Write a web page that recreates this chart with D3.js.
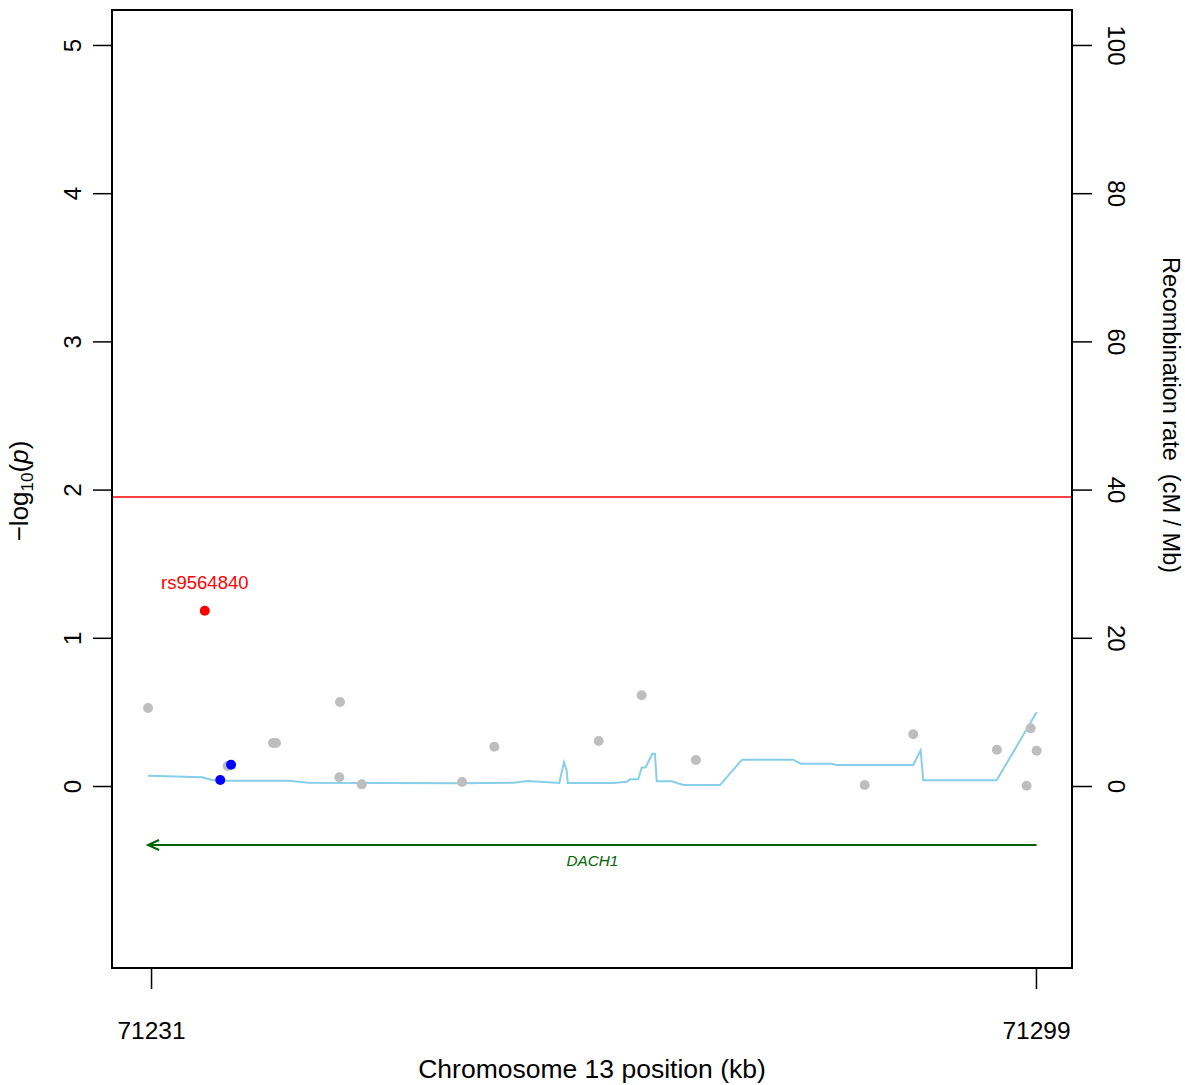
<!DOCTYPE html>
<html><head><meta charset="utf-8">
<script src="https://cdn.jsdelivr.net/npm/d3@7"></script>
<style>body{margin:0;background:#fff;} text{font-family:"Liberation Sans",Arial,sans-serif;}</style>
</head><body>
<svg id="c" width="1185" height="1085"></svg>
<script>
// SNP data (position kb, -log10 p)
const grayPos = [71230.77,71245.52,71240.37,71240.60,71236.89,71245.47,71247.19,71254.90,71257.38,71265.40,71268.70,71272.87,71289.57,71285.84,71296.00,71298.59,71299.05,71298.28];
const grayP   = [0.526,0.567,0.29,0.29,0.135,0.059,0.011,0.027,0.265,0.304,0.612,0.175,0.349,0.007,0.245,0.389,0.238,0.002];
const bluePos = [71236.32,71237.15];
const blueP   = [0.04,0.144];
const leadPos = [71235.13];
const leadP   = [1.183];
const leadName = ["rs9564840"];
// recombination rate (cM/Mb)
const recPos = [71230.77,71234.92,71235.69,71236.46,71241.58,71243.12,71254.97,71258.81,71259.97,71262.37,71262.73,71262.94,71263.02,71266.52,71267.55,71267.80,71268.44,71268.70,71269.01,71269.52,71269.72,71269.86,71271.01,71271.90,71274.72,71276.41,71280.35,71280.92,71283.30,71283.69,71289.57,71290.14,71290.34,71295.98,71299.05];
const recRate = [1.39,1.17,0.81,0.72,0.72,0.45,0.36,0.45,0.67,0.40,3.2,2.07,0.40,0.40,0.58,0.9,0.9,2.47,2.52,4.36,4.36,0.63,0.63,0.13,0.13,3.55,3.55,3.01,3.01,2.83,2.83,4.82,0.77,0.77,9.95];
// gene
const geneName = ["DACH1"];
const geneStart = [71230.77];
const geneEnd = [71299.05];
const threshold = 1.95;
const xTicks = [71231,71299];
const yTicks = [0,1,2,3,4,5];
const rTicks = [0,20,40,60,80,100];

const svg = d3.select("#c");
const L=112,R=1072,T=10,B=968;
const x = d3.scaleLinear().domain([71228.0,71301.77]).range([L,R]);
const y = d3.scaleLinear().domain([-1.228,5.236]).range([B,T]);
const yr = d3.scaleLinear().domain([-1.228*20,5.236*20]).range([B,T]);

// recombination line
svg.append("path").datum(recPos.map((p,i)=>[p,recRate[i]]))
  .attr("d", d3.line().x(d=>x(d[0])).y(d=>yr(d[1])))
  .attr("fill","none").attr("stroke","#87ceeb").attr("stroke-width",2);

// threshold
svg.append("line").attr("x1",L).attr("x2",R).attr("y1",y(threshold)).attr("y2",y(threshold))
  .attr("stroke","#ff0000").attr("stroke-width",1.5);

// gene arrow
const gy = y(-0.398);
geneName.forEach((g,i)=>{
  const xs=x(geneEnd[i]), xe=x(geneStart[i]);
  svg.append("line").attr("x1",xs).attr("x2",xe).attr("y1",gy).attr("y2",gy).attr("stroke","#006400").attr("stroke-width",2);
  svg.append("path").attr("d",`M${xe+11},${gy-5}L${xe},${gy}L${xe+11},${gy+5}`).attr("fill","none").attr("stroke","#006400").attr("stroke-width",2);
  svg.append("text").attr("x",(xs+xe)/2).attr("y",gy+21).attr("text-anchor","middle")
    .attr("font-size",15.3).attr("font-style","italic").attr("fill","#006400").text(g);
});

// points
svg.selectAll(".g").data(grayPos).enter().append("circle").attr("cx",d=>x(d)).attr("cy",(d,i)=>y(grayP[i])).attr("r",5).attr("fill","#bebebe");
svg.selectAll(".b").data(bluePos).enter().append("circle").attr("cx",d=>x(d)).attr("cy",(d,i)=>y(blueP[i])).attr("r",5).attr("fill","#0000ff");
svg.selectAll(".r").data(leadPos).enter().append("circle").attr("cx",d=>x(d)).attr("cy",(d,i)=>y(leadP[i])).attr("r",5).attr("fill","#ff0000");
leadPos.forEach((p,i)=>{
  svg.append("text").attr("x",x(p)).attr("y",y(leadP[i])-22).attr("text-anchor","middle")
    .attr("font-size",18.5).attr("fill","#ff0000").text(leadName[i]);
});

// box
svg.append("rect").attr("x",L).attr("y",T).attr("width",R-L).attr("height",B-T).attr("fill","none").attr("stroke","#000").attr("stroke-width",2);

// left axis
const la = svg.append("g").attr("transform",`translate(${L},0)`)
  .call(d3.axisLeft(y).tickValues(yTicks).tickSize(19).tickSizeOuter(0).tickFormat(d3.format("d")));
la.select(".domain").remove();
la.selectAll("line").attr("stroke","#000").attr("stroke-width",1.5);
la.selectAll(".tick text").each(function(){ d3.select(this).attr("x",-39).attr("y",0)
  .attr("transform","rotate(-90,-39,0)").attr("dy","0.35em").attr("dx",0);})
  .attr("font-size",24).attr("fill","#000").attr("text-anchor","middle");

// right axis
const ra = svg.append("g").attr("transform",`translate(${R},0)`)
  .call(d3.axisRight(yr).tickValues(rTicks).tickSize(20).tickSizeOuter(0).tickFormat(d3.format("d")));
ra.select(".domain").remove();
ra.selectAll("line").attr("stroke","#000").attr("stroke-width",1.5);
ra.selectAll(".tick text").each(function(){ d3.select(this).attr("x",44).attr("y",0).attr("dy","0.35em")
  .attr("text-anchor","middle").attr("transform","rotate(90,44,0)");})
  .attr("font-size",24).attr("fill","#000");

// bottom axis
const ba = svg.append("g").attr("transform",`translate(0,${B})`)
  .call(d3.axisBottom(x).tickValues(xTicks).tickSize(21).tickSizeOuter(0).tickFormat(d3.format("d")));
ba.select(".domain").remove();
ba.selectAll("line").attr("stroke","#000").attr("stroke-width",1.5);
ba.selectAll("text").attr("font-size",24.5).attr("fill","#000").attr("y",62).attr("dy","0.35em");

// titles
svg.append("text").attr("x",592).attr("y",1078).attr("text-anchor","middle").attr("font-size",26.5).attr("fill","#000")
  .text("Chromosome 13 position (kb)");
const yt = svg.append("text").attr("transform","translate(28,491) rotate(-90)").attr("text-anchor","middle").attr("font-size",26).attr("fill","#000");
yt.append("tspan").text("\u2212log");
yt.append("tspan").attr("font-size",17).attr("dy",5).text("10");
yt.append("tspan").attr("dy",-5).text("(");
yt.append("tspan").attr("font-style","italic").text("p");
yt.append("tspan").text(")");
svg.append("text").attr("transform","translate(1163,415) rotate(90)").attr("text-anchor","middle").attr("font-size",23.5).attr("fill","#000")
  .attr("xml:space","preserve").text("Recombination rate  (cM / Mb)");
</script>
</body></html>
